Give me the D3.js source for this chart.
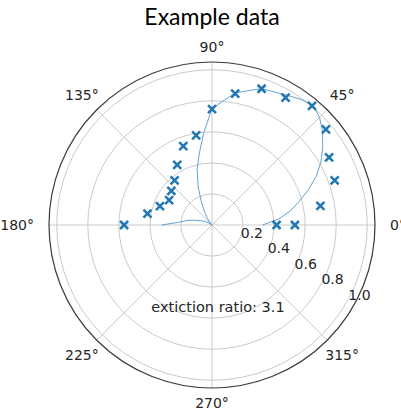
<!DOCTYPE html>
<html>
<head>
<meta charset="utf-8">
<script src="https://cdn.jsdelivr.net/npm/d3@7"></script>
<style>
  html, body { margin: 0; padding: 0; background: #fff; }
  svg { display: block; }
</style>
</head>
<body>
<svg id="chart" width="401" height="418"></svg>
<script>
// ---- data ----
const titleText = "Example data";
const noteText = "extiction ratio: 3.1";
const markerAngles = [0, 0, 10, 20, 30, 40, 50, 60, 70, 80, 90, 100, 110, 120, 130, 140, 150, 160, 170, 180];
const markerRadii  = [0.534, 0.416, 0.709, 0.841, 0.871, 0.958, 1.002, 0.948, 0.934, 0.86, 0.746, 0.587, 0.541, 0.448, 0.375, 0.342, 0.319, 0.357, 0.422, 0.566];
const fitAngles = [0, 5, 10, 15, 20, 25, 30, 35, 40, 45, 50, 55, 60, 70, 80, 90, 95, 100, 105, 110, 115, 120, 125, 130, 140, 150, 155, 160, 165, 170, 175, 180];
const fitRadii  = [0.325, 0.43, 0.51, 0.58, 0.66, 0.74, 0.81, 0.87, 0.93, 0.98, 1.01, 0.99, 0.965, 0.935, 0.865, 0.75, 0.60, 0.47, 0.37, 0.26, 0.16, 0.09, 0.05, 0.02, 0.0, 0.03, 0.06, 0.08, 0.12, 0.165, 0.21, 0.325];
const rTicks = [0.2, 0.4, 0.6, 0.8, 1.0];
const rTickLabels = ["0.2", "0.4", "0.6", "0.8", "1.0"];
const thetaTicks = [0, 45, 90, 135, 180, 225, 270, 315];
const thetaTickLabels = ["0°", "45°", "90°", "135°", "180°", "225°", "270°", "315°"];

// ---- layout ----
const cx = 212, cy = 225;
const svg = d3.select("#chart");
const r = d3.scaleLinear().domain([0, 1.05]).range([0, 163]);
// theta in degrees CCW from east -> d3 radial angle (clockwise from north)
const ang = d3.scaleLinear().domain([0, 360]).range([Math.PI / 2, Math.PI / 2 - 2 * Math.PI]);
const px = (t, v) => cx + r(v) * Math.cos(t * Math.PI / 180);
const py = (t, v) => cy - r(v) * Math.sin(t * Math.PI / 180);

const g = svg.append("g").attr("transform", `translate(${cx},${cy})`);

// radial grid circles
g.selectAll("circle.grid").data(rTicks).join("circle")
  .attr("r", d => r(d)).attr("fill", "none")
  .attr("stroke", "#c4c4c4").attr("stroke-width", 0.9);

// angular grid lines
g.selectAll("line.grid").data(thetaTicks).join("line")
  .attr("x1", 0).attr("y1", 0)
  .attr("x2", d => r(1.05) * Math.cos(d * Math.PI / 180))
  .attr("y2", d => -r(1.05) * Math.sin(d * Math.PI / 180))
  .attr("stroke", "#c4c4c4").attr("stroke-width", 0.9);

// outer spine
g.append("circle").attr("r", r(1.05)).attr("fill", "none")
  .attr("stroke", "#3a3a3a").attr("stroke-width", 1.2);

// fit line
const fitData = fitAngles.map((a, i) => [a, fitRadii[i]]);
const lineGen = d3.lineRadial().angle(d => ang(d[0])).radius(d => r(d[1])).curve(d3.curveLinear);
g.append("path").datum(fitData).attr("d", lineGen)
  .attr("fill", "none").attr("stroke", "#3a8cc8").attr("stroke-width", 0.8);

// markers
const ms = 4;
const markers = svg.append("g");
markerAngles.forEach((a, i) => {
  const x = px(a, markerRadii[i]), y = py(a, markerRadii[i]);
  markers.append("path")
    .attr("d", `M${x - ms},${y - ms}L${x + ms},${y + ms}M${x - ms},${y + ms}L${x + ms},${y - ms}`)
    .attr("stroke", "#1f77b4").attr("stroke-width", 2.5).attr("fill", "none");
});

// theta labels
const labelR = 178;
svg.append("g").selectAll("text").data(thetaTicks).join("text")
  .attr("x", d => cx + (labelR + (d % 90 === 0 ? 0 : 6)) * Math.cos(d * Math.PI / 180))
  .attr("y", d => cy - (labelR + (d % 90 === 0 ? 0 : 6)) * Math.sin(d * Math.PI / 180))
  .attr("text-anchor", d => d === 0 ? "start" : (d === 180 ? "end" : "middle"))
  .attr("dominant-baseline", "central")
  .attr("font-family", "DejaVu Sans").attr("font-size", 14).attr("fill", "#262626")
  .text((d, i) => thetaTickLabels[i]);

// radial labels
svg.append("g").selectAll("text").data(rTicks).join("text")
  .attr("x", d => cx + r(d) * Math.cos(-30 * Math.PI / 180) + 13)
  .attr("y", d => cy - r(d) * Math.sin(-30 * Math.PI / 180) - 8)
  .attr("text-anchor", "middle").attr("dominant-baseline", "central")
  .attr("font-family", "DejaVu Sans").attr("font-size", 14).attr("fill", "#262626")
  .text((d, i) => rTickLabels[i]);

// annotation
svg.append("text").attr("x", 218).attr("y", 307)
  .attr("text-anchor", "middle").attr("dominant-baseline", "central")
  .attr("font-family", "DejaVu Sans").attr("font-size", 14.5).attr("fill", "#262626")
  .text(noteText);

// title
svg.append("text").attr("x", 212).attr("y", 25)
  .attr("text-anchor", "middle")
  .attr("font-family", "Lato").attr("font-size", 23).attr("fill", "#000")
  .text(titleText);
</script>
</body>
</html>
